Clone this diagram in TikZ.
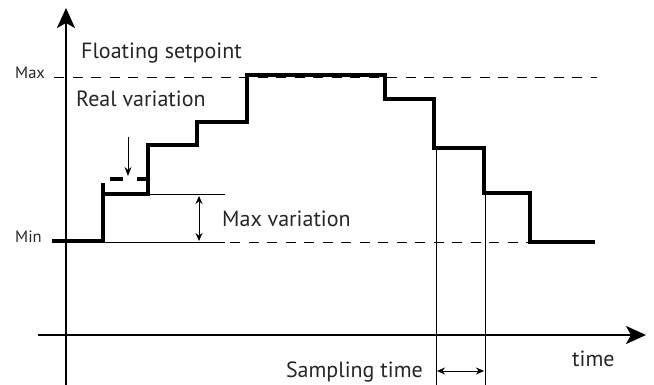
\documentclass[tikz,border=0pt]{standalone}
\usepackage{fontspec}
\setmainfont{PT Sans}
\usetikzlibrary{arrows.meta}
\begin{document}
\begin{tikzpicture}[x=1pt,y=-1pt,
  axisline/.style={line width=2.2pt},
  curve/.style={line width=4.5pt,line join=miter,line cap=butt},
  thin/.style={line width=1pt},
  guide/.style={line width=1pt,dash pattern=on 10pt off 8.5pt},
  lbl/.style={font=\fontsize{22}{26}\selectfont,inner sep=0pt,text=black!85},
  small/.style={font=\fontsize{16.5}{19}\selectfont,inner sep=0pt,text=black!85},
  bigtip/.style={-{Stealth[length=20pt,width=18pt,inset=5pt]}},
  smalltip/.style={{Stealth[length=8pt,width=7pt]}-{Stealth[length=8pt,width=7pt]}}]
\useasboundingbox (0,0) rectangle (654,385);
% axes
\coordinate (yb) at (66,385);
\coordinate (yt) at (66,8);
\coordinate (xl) at (38,335);
\coordinate (xr) at (646,335);
\draw[axisline,bigtip] (yb) -- (yt);
\draw[axisline,bigtip] (xl) -- (xr);
% guide lines
\coordinate (maxl) at (54,78);
\coordinate (maxr) at (597,78);
\draw[guide] (maxl) -- (maxr);
\coordinate (minl) at (230,243);
\coordinate (minr) at (597,243);
\draw[guide] (minl) -- (minr);
\coordinate (mins) at (103,243);
\coordinate (mine) at (225,243);
\draw[thin] (mins) -- (mine);
% max variation
\coordinate (mvs) at (150,195);
\coordinate (mve) at (225,195);
\draw[thin] (mvs) -- (mve);
\coordinate (mvt) at (199,196);
\coordinate (mvb) at (199,241);
\draw[thin,smalltip] (mvt) -- (mvb);
% step curve
\draw[curve] (52,241) -- (103,241) -- (103,183) (103,194) -- (148,194) -- (148,145) -- (197,145) -- (197,122) -- (247,122)
  -- (247,75) -- (385,75) -- (385,99) -- (434,99) -- (434,148) -- (484,148) -- (484,193) -- (530,193) -- (530,242) -- (595,242);
% real variation marks
\draw[line width=4pt] (110,179) -- (123,179) (137,179) -- (148,179);
\coordinate (rvt) at (128,137);
\coordinate (rvb) at (128,176);
\draw[thin,-{Stealth[length=9pt,width=7pt]}] (rvt) -- (rvb);
% sampling lines
\coordinate (s1t) at (436.5,148);
\coordinate (s1b) at (436.5,385);
\coordinate (s2t) at (485,195);
\coordinate (s2b) at (485,385);
\draw[thin] (s1t) -- (s1b);
\draw[thin] (s2t) -- (s2b);
\coordinate (sa) at (437,371);
\coordinate (sb) at (484,371);
\draw[thin,smalltip] (sa) -- (sb);
% labels
\node[lbl,anchor=base west] (fs) at (81,59) {Floating setpoint};
\node[lbl,anchor=base west] (rv) at (76,107) {Real variation};
\node[lbl,anchor=base west] (mv) at (222,227) {Max variation};
\node[lbl,anchor=base east] (st) at (423,377) {Sampling time};
\node[lbl,anchor=base west] (tm) at (572,366) {time};
\node[small,anchor=base west] (mx) at (15,79) {Max};
\node[small,anchor=base west] (mn) at (15,243) {Min};
\end{tikzpicture}
\end{document}
